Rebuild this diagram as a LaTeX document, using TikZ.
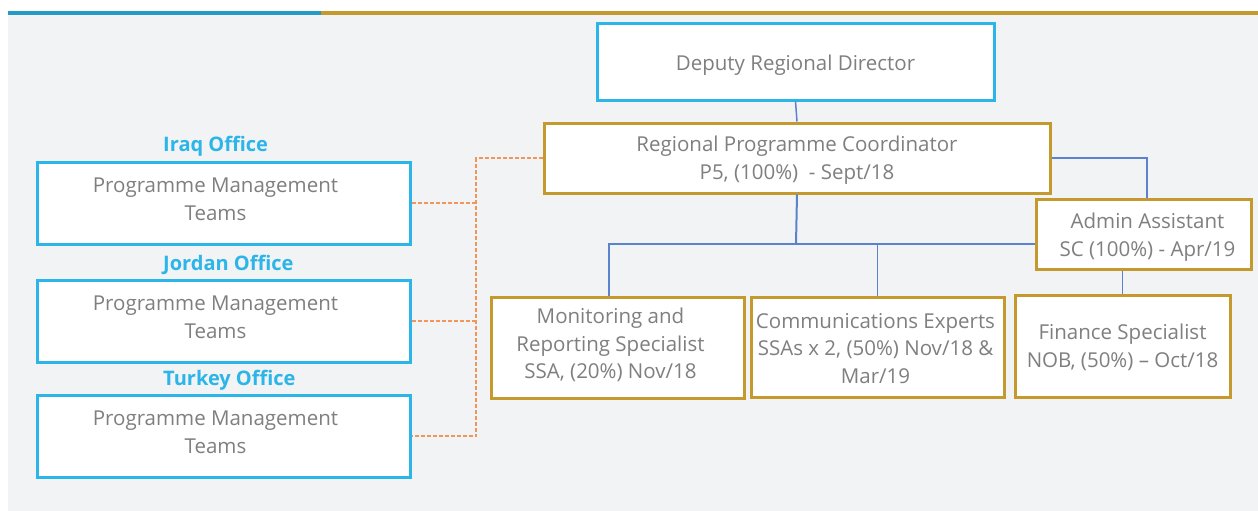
\documentclass[tikz,border=0pt]{standalone}
\usepackage{fontspec}
\setmainfont{Open Sans}
\usetikzlibrary{positioning}
\definecolor{skyline}{HTML}{2BB5E8}
\definecolor{goldline}{HTML}{C49A2E}
\definecolor{treeline}{HTML}{5B82CC}
\definecolor{dashline}{HTML}{F0965A}
\definecolor{boxtext}{HTML}{7F7F7F}
\definecolor{paper}{HTML}{F2F3F5}
\newcommand\Nudge[3]{%
  \hspace*{#1}\raisebox{#2}[\height][\depth]{%
  \begin{tabular}{@{}c@{}}#3\end{tabular}}\hspace*{-#1}}

\begin{document}
\begin{tikzpicture}[x=1pt, y=-1pt,
post/.style={
  draw, line width=3pt, fill=white,
  align=center, text=boxtext,
  font=\fontsize{20.5}{27.5}\selectfont,
  inner sep=2pt
},
bluepost/.style={post, draw=skyline},
goldpost/.style={post, draw=goldline},
office/.style={
  text=skyline, inner sep=0pt, anchor=west,
  font=\fontsize{20}{25}\selectfont\bfseries
},
tree/.style={draw=treeline, line width=1.5pt},
link/.style={draw=dashline, line width=1.5pt, dashed, dash pattern=on 4pt off 2pt}
]
\useasboundingbox (0,0) rectangle (1258,511);
\fill[paper] (8,15) rectangle (1258,511);
\fill[skyline!85!black] (8,11) rectangle (321,15);
\fill[goldline] (321,11) rectangle (1258,15);

% top of the chart
\node (deputy) [bluepost, minimum width=397pt, minimum height=76pt] at (795.5,62)
  {\Nudge{0pt}{-3pt}{Deputy Regional Director}};
\node (coord) [goldpost, minimum width=506pt, minimum height=70pt] at (797,158)
  {\Nudge{0pt}{-2pt}{Regional Programme Coordinator\\P5, (100\%)~~- Sept/18}};
\node (admin) [goldpost, minimum width=215pt, minimum height=70pt] at (1143.5,234)
  {\Nudge{4pt}{-3pt}{Admin Assistant\\SC (100\%) - Apr/19}};

% staff under the coordinator
\node (monitor) [goldpost, minimum width=253pt, minimum height=101pt] at (617.5,347.5)
  {\Nudge{-7pt}{2pt}{Monitoring and\\Reporting Specialist\\SSA, (20\%) Nov/18}};
\node (comms) [goldpost, minimum width=253pt, minimum height=100pt] at (877.5,347)
  {\Nudge{-2pt}{-3pt}{Communications Experts\\SSAs x 2, (50\%) Nov/18 \&\\Mar/19}};
\node (finance) [goldpost, minimum width=215pt, minimum height=102pt] at (1122.5,346)
  {\Nudge{0pt}{-2pt}{Finance Specialist\\NOB, (50\%) -- Oct/18}};

% country offices
\node (iraq) [bluepost, minimum width=373pt, minimum height=82pt] at (223.5,203)
  {\Nudge{-8pt}{2pt}{Programme Management\\Teams}};
\node (jordan) [bluepost, minimum width=373pt, minimum height=82pt] at (223.5,321)
  {\Nudge{-8pt}{2pt}{Programme Management\\Teams}};
\node (turkey) [bluepost, minimum width=373pt, minimum height=82pt] at (223.5,436)
  {\Nudge{-8pt}{2pt}{Programme Management\\Teams}};
\node (iraqname) [office] at (163,146) {Iraq Office};
\node (jordanname) [office] at (163,265) {Jordan Office};
\node (turkeyname) [office] at (163,380) {Turkey Office};

\coordinate (bus) at (796,244);
\coordinate (spine) at (476,158);

% solid lines
\draw[tree] (deputy.south) -- (coord.north);
\draw[tree, line width=2pt] (coord.south) -- (bus);
\draw[tree] ([xshift=-8.5pt]monitor.north) |- (admin.west |- bus);
\draw[tree] (comms.north) -- (comms.north |- bus);
\draw[tree] (coord.east) -| ([xshift=3.5pt]admin.north);
\draw[tree] (finance.north) -- (finance.north |- admin.south);

% dashed lines
\draw[link] (coord.west) -- (spine) |- (turkey.east);
\draw[link] (iraq.east) -- (iraq.east -| spine);
\draw[link] (jordan.east) -- (jordan.east -| spine);
\end{tikzpicture}
\end{document}
